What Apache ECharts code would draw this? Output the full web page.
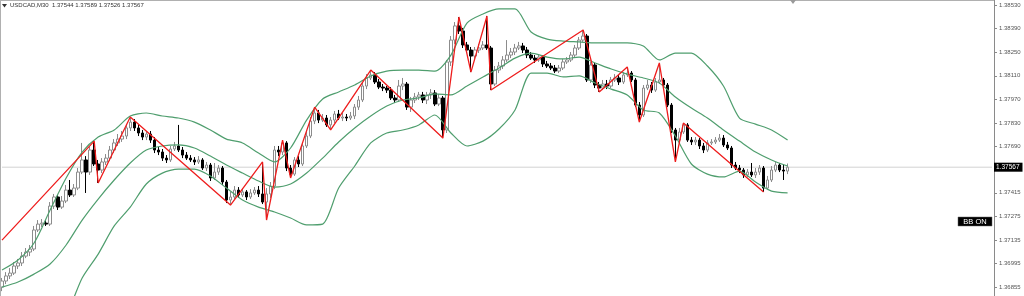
<!DOCTYPE html>
<html><head><meta charset="utf-8">
<script src="https://cdn.jsdelivr.net/npm/echarts@6/dist/echarts.min.js"></script>
<style>html,body{margin:0;padding:0;background:#fff}#c{width:1024px;height:296px}</style>
</head><body><div id="c"></div>
<script>
const slotCount = 248;
const categories = Array.from({length: slotCount}, (_, i) => String(i));

const opens = [
1.36855,1.36891,1.36921,1.36938,1.36980,1.36998,1.37039,1.37063,1.37081,1.37194,
1.37229,1.37235,1.37229,1.37336,1.37390,1.37330,1.37366,1.37431,1.37402,1.37443,
1.37538,1.37610,1.37538,1.37669,1.37586,1.37550,1.37598,1.37621,1.37669,1.37711,
1.37734,1.37752,1.37800,1.37835,1.37800,1.37770,1.37746,1.37764,1.37728,1.37669,
1.37657,1.37621,1.37610,1.37675,1.37693,1.37669,1.37639,1.37621,1.37610,1.37598,
1.37610,1.37562,1.37580,1.37503,1.37538,1.37562,1.37479,1.37372,1.37390,1.37431,
1.37402,1.37420,1.37390,1.37414,1.37431,1.37408,1.37360,1.37408,1.37455,1.37669,
1.37657,1.37711,1.37562,1.37526,1.37610,1.37586,1.37693,1.37752,1.37841,1.37889,
1.37847,1.37859,1.37818,1.37847,1.37883,1.37859,1.37865,1.37859,1.37871,1.37924,
1.37966,1.38049,1.38097,1.38115,1.38073,1.38043,1.38037,1.38025,1.37978,1.37966,
1.38049,1.38061,1.37924,1.37966,1.37984,1.37996,1.37966,1.37996,1.38008,1.37942,
1.37978,1.37788,1.38192,1.38322,1.38406,1.38376,1.38293,1.38263,1.38227,1.38263,
1.38275,1.38293,1.38275,1.38061,1.38144,1.38168,1.38204,1.38233,1.38251,1.38275,
1.38287,1.38263,1.38233,1.38215,1.38204,1.38221,1.38180,1.38168,1.38156,1.38138,
1.38156,1.38192,1.38204,1.38233,1.38275,1.38322,1.38346,1.38085,1.38174,1.38055,
1.38037,1.38061,1.38049,1.38085,1.38097,1.38073,1.38115,1.38126,1.38085,1.37936,
1.37877,1.38037,1.38055,1.38025,1.38073,1.38085,1.38055,1.37936,1.37788,1.37728,
1.37776,1.37818,1.37728,1.37717,1.37728,1.37693,1.37669,1.37711,1.37717,1.37728,
1.37740,1.37699,1.37681,1.37580,1.37562,1.37550,1.37521,1.37538,1.37521,1.37538,
1.37562,1.37443,1.37491,1.37550,1.37580,1.37550,1.37544];

const closes = [
1.36891,1.36921,1.36938,1.36980,1.36998,1.37039,1.37063,1.37081,1.37194,1.37229,
1.37235,1.37229,1.37336,1.37390,1.37330,1.37366,1.37431,1.37402,1.37443,1.37538,
1.37610,1.37538,1.37669,1.37586,1.37550,1.37598,1.37621,1.37669,1.37711,1.37734,
1.37752,1.37800,1.37835,1.37800,1.37770,1.37746,1.37764,1.37728,1.37669,1.37657,
1.37621,1.37610,1.37675,1.37693,1.37669,1.37639,1.37621,1.37610,1.37598,1.37610,
1.37562,1.37580,1.37503,1.37538,1.37562,1.37479,1.37372,1.37390,1.37431,1.37402,
1.37420,1.37390,1.37414,1.37431,1.37408,1.37360,1.37408,1.37455,1.37669,1.37657,
1.37711,1.37562,1.37526,1.37610,1.37586,1.37693,1.37752,1.37841,1.37889,1.37847,
1.37859,1.37818,1.37847,1.37883,1.37859,1.37865,1.37859,1.37871,1.37924,1.37966,
1.38049,1.38097,1.38115,1.38073,1.38043,1.38037,1.38025,1.37978,1.37966,1.38049,
1.38061,1.37924,1.37966,1.37984,1.37996,1.37966,1.37996,1.38008,1.37942,1.37978,
1.37788,1.38192,1.38322,1.38406,1.38376,1.38293,1.38263,1.38227,1.38263,1.38275,
1.38293,1.38275,1.38061,1.38144,1.38168,1.38204,1.38233,1.38251,1.38275,1.38287,
1.38263,1.38233,1.38215,1.38204,1.38221,1.38180,1.38168,1.38156,1.38138,1.38156,
1.38192,1.38204,1.38233,1.38275,1.38322,1.38346,1.38085,1.38174,1.38055,1.38037,
1.38061,1.38049,1.38085,1.38097,1.38073,1.38115,1.38126,1.38085,1.37936,1.37877,
1.38037,1.38055,1.38025,1.38073,1.38085,1.38055,1.37936,1.37788,1.37728,1.37776,
1.37818,1.37728,1.37717,1.37728,1.37693,1.37669,1.37711,1.37717,1.37728,1.37740,
1.37699,1.37681,1.37580,1.37562,1.37550,1.37521,1.37538,1.37521,1.37538,1.37562,
1.37443,1.37491,1.37550,1.37580,1.37550,1.37544,1.37567];

const highs = [
1.36909,1.36944,1.36968,1.37004,1.37022,1.37063,1.37087,1.37105,1.37218,1.37253,
1.37259,1.37253,1.37360,1.37408,1.37402,1.37396,1.37461,1.37491,1.37467,1.37562,
1.37711,1.37633,1.37687,1.37722,1.37610,1.37621,1.37645,1.37693,1.37734,1.37764,
1.37782,1.37823,1.37865,1.37853,1.37818,1.37788,1.37782,1.37782,1.37746,1.37687,
1.37675,1.37639,1.37693,1.37717,1.37818,1.37687,1.37657,1.37639,1.37627,1.37633,
1.37621,1.37598,1.37592,1.37592,1.37580,1.37574,1.37491,1.37420,1.37455,1.37449,
1.37443,1.37431,1.37437,1.37449,1.37455,1.37598,1.37443,1.37479,1.37693,1.37693,
1.37728,1.37722,1.37580,1.37627,1.37633,1.37711,1.37776,1.37865,1.37924,1.37907,
1.37883,1.37877,1.37865,1.37901,1.37907,1.37889,1.37883,1.37895,1.37942,1.37990,
1.38067,1.38120,1.38144,1.38132,1.38091,1.38061,1.38049,1.38043,1.37996,1.38085,
1.38097,1.38073,1.37984,1.38008,1.38014,1.38014,1.38014,1.38031,1.38025,1.38002,
1.37990,1.38204,1.38346,1.38429,1.38459,1.38394,1.38311,1.38281,1.38281,1.38299,
1.38316,1.38465,1.38287,1.38168,1.38192,1.38227,1.38322,1.38275,1.38299,1.38311,
1.38305,1.38281,1.38251,1.38233,1.38239,1.38233,1.38198,1.38186,1.38174,1.38174,
1.38210,1.38221,1.38251,1.38293,1.38340,1.38382,1.38358,1.38192,1.38186,1.38073,
1.38085,1.38085,1.38103,1.38120,1.38115,1.38132,1.38162,1.38138,1.38097,1.37954,
1.38055,1.38085,1.38073,1.38097,1.38186,1.38097,1.38067,1.37948,1.37800,1.37800,
1.37829,1.37829,1.37746,1.37746,1.37740,1.37711,1.37728,1.37734,1.37746,1.37764,
1.37758,1.37717,1.37693,1.37598,1.37580,1.37562,1.37556,1.37592,1.37562,1.37580,
1.37574,1.37515,1.37574,1.37598,1.37592,1.37586,1.37589];

const lows = [
1.36831,1.36873,1.36903,1.36927,1.36962,1.36980,1.37027,1.37039,1.37069,1.37182,
1.37212,1.37218,1.37218,1.37319,1.37313,1.37319,1.37354,1.37390,1.37390,1.37431,
1.37526,1.37414,1.37521,1.37574,1.37473,1.37532,1.37580,1.37604,1.37651,1.37693,
1.37717,1.37734,1.37782,1.37782,1.37752,1.37728,1.37728,1.37711,1.37651,1.37639,
1.37604,1.37592,1.37598,1.37663,1.37657,1.37621,1.37610,1.37598,1.37580,1.37586,
1.37550,1.37544,1.37485,1.37491,1.37521,1.37461,1.37354,1.37342,1.37378,1.37384,
1.37390,1.37372,1.37378,1.37402,1.37390,1.37348,1.37253,1.37384,1.37437,1.37633,
1.37639,1.37544,1.37503,1.37515,1.37568,1.37574,1.37681,1.37740,1.37823,1.37829,
1.37835,1.37806,1.37788,1.37829,1.37847,1.37841,1.37841,1.37847,1.37853,1.37907,
1.37954,1.38031,1.38085,1.38061,1.38031,1.38019,1.38008,1.37966,1.37948,1.37954,
1.38025,1.37907,1.37895,1.37948,1.37966,1.37948,1.37942,1.37972,1.37930,1.37930,
1.37740,1.37770,1.38168,1.38299,1.38358,1.38275,1.38245,1.38132,1.38210,1.38245,
1.38263,1.38263,1.38025,1.38049,1.38126,1.38150,1.38192,1.38215,1.38233,1.38263,
1.38245,1.38215,1.38204,1.38186,1.38192,1.38162,1.38156,1.38144,1.38126,1.38126,
1.38144,1.38180,1.38192,1.38221,1.38263,1.38311,1.38073,1.38067,1.38037,1.38014,
1.38025,1.38031,1.38037,1.38073,1.38055,1.38061,1.38103,1.38073,1.37924,1.37835,
1.37865,1.38025,1.38008,1.38014,1.38061,1.38037,1.37924,1.37770,1.37598,1.37711,
1.37764,1.37717,1.37699,1.37699,1.37675,1.37651,1.37657,1.37699,1.37705,1.37717,
1.37687,1.37669,1.37562,1.37550,1.37532,1.37503,1.37509,1.37509,1.37503,1.37521,
1.37420,1.37431,1.37479,1.37538,1.37538,1.37491,1.37526];

const bandIndex = [0,4,8,12,16,20,24,28,32,36,40,44,48,52,56,60,64,68,72,76,80,84,88,92,96,100,104,108,112,116,120,124,128,132,136,140,144,148,152,156,160,164,168,172,176,180,184,188,192,196];
const upperBand = [1.36956,1.37016,1.37117,1.37313,1.37503,1.37657,1.37746,1.37788,1.37871,1.37889,
1.37871,1.37859,1.37835,1.37788,1.37734,1.37711,1.37651,1.37598,1.37681,1.37847,
1.37972,1.38014,1.38055,1.38109,1.38138,1.38144,1.38144,1.38138,1.38233,1.38423,
1.38477,1.38507,1.38507,1.38370,1.38328,1.38316,1.38311,1.38305,1.38305,1.38305,
1.38287,1.38204,1.38245,1.38245,1.38168,1.38049,1.37859,1.37823,1.37788,1.37728];
const middleBand = [1.36855,1.36885,1.36932,1.36992,1.37105,1.37253,1.37378,1.37491,1.37592,1.37669,
1.37693,1.37699,1.37681,1.37633,1.37580,1.37532,1.37485,1.37449,1.37467,1.37532,
1.37621,1.37717,1.37800,1.37871,1.37930,1.37966,1.37978,1.38002,1.37996,1.38049,
1.38103,1.38156,1.38215,1.38245,1.38221,1.38210,1.38221,1.38186,1.38150,1.38120,
1.38097,1.38067,1.37984,1.37918,1.37859,1.37788,1.37722,1.37657,1.37610,1.37574];
const lowerBand = [1.36754,1.36754,1.36736,1.36683,1.36701,1.36909,1.37051,1.37218,1.37330,1.37467,
1.37532,1.37556,1.37556,1.37515,1.37443,1.37372,1.37330,1.37301,1.37265,1.37224,
1.37229,1.37443,1.37574,1.37711,1.37770,1.37788,1.37818,1.37877,1.37770,1.37693,
1.37722,1.37794,1.37907,1.38126,1.38126,1.38103,1.38109,1.38067,1.38031,1.37996,
1.37907,1.37889,1.37752,1.37586,1.37526,1.37509,1.37544,1.37479,1.37425,1.37414];

const zigzagIndex = [0,23,24,32,57,65,66,70,72,78,82,92,110,114,117,121,122,145,149,156,159,164,168,170,190];
const zigzagValue = [1.37134,1.37722,1.37473,1.37865,1.37342,1.37598,1.37253,1.37728,1.37503,1.37924,1.37788,1.38144,1.37740,1.38459,1.38132,1.38465,1.38025,1.38382,1.38014,1.38162,1.37835,1.38186,1.37598,1.37829,1.37420];

const tickLabels = [1.38530,1.38390,1.38250,1.38110,1.37970,1.37830,1.37690,1.37415,1.37275,1.37135,1.36995,1.36855];
const lastPrice = 1.37567;
const titleText = 'USDCAD,M30  1.37544 1.37589 1.37526 1.37567';
const badgeText = 'BB ON';

const chart = echarts.init(document.getElementById('c'), null, {renderer: 'canvas'});
const candleData = opens.map((o, i) => [o, closes[i], lows[i], highs[i]]);
const pair = (idx, vals) => idx.map((x, i) => [x, vals[i]]);
const FONT = 'Liberation Sans';
const bandStyle = {color: '#4f9e6e', width: 1.2};

chart.setOption({
  animation: false,
  grid: {left: 0, right: 30, top: 0, bottom: 0, containLabel: false},
  xAxis: {type: 'category', data: categories, boundaryGap: true, show: false},
  yAxis: {
    type: 'value', position: 'right', min: 1.36802, max: 1.38560,
    axisLine: {show: true, lineStyle: {color: '#8a8a8a', width: 1}},
    axisTick: {show: true, customValues: tickLabels, length: 3, lineStyle: {color: '#8a8a8a'}},
    axisLabel: {show: true, customValues: tickLabels, formatter: v => v.toFixed(5), fontSize: 6, color: '#555', margin: 5, fontFamily: FONT},
    splitLine: {show: false}
  },
  series: [
    {
      type: 'line', data: [[0, lastPrice], [slotCount - 1, lastPrice]], showSymbol: false, z: 1,
      lineStyle: {color: '#d2d2d2', width: 1},
      endLabel: {show: true, formatter: lastPrice.toFixed(5), backgroundColor: '#000', color: '#fff',
                 fontSize: 6.5, fontFamily: FONT, padding: [1, 3, 1, 2], distance: 2}
    },
    {
      type: 'candlestick', data: candleData, barWidth: 3, z: 2,
      itemStyle: {color: '#ffffff', color0: '#000000', borderColor: '#8c8c8c', borderColor0: '#000000', borderWidth: 1}
    },
    {type: 'line', data: pair(bandIndex, upperBand), showSymbol: false, smooth: 0.25, lineStyle: bandStyle, z: 3},
    {type: 'line', data: pair(bandIndex, middleBand), showSymbol: false, smooth: 0.25, lineStyle: bandStyle, z: 3},
    {type: 'line', data: pair(bandIndex, lowerBand), showSymbol: false, smooth: 0.25, lineStyle: bandStyle, z: 3},
    {type: 'line', data: pair(zigzagIndex, zigzagValue), showSymbol: false, lineStyle: {color: '#ee1c1c', width: 1.3}, z: 4}
  ],
  graphic: [
    {type: 'line', shape: {x1: 0, y1: 0.5, x2: 994, y2: 0.5}, style: {stroke: '#b0b0b0', lineWidth: 1}, z: 10},
    {type: 'line', shape: {x1: 0.5, y1: 0, x2: 0.5, y2: 296}, style: {stroke: '#b0b0b0', lineWidth: 1}, z: 10},
    {type: 'polygon', shape: {points: [[790, 0], [796, 0], [793, 4]]}, style: {fill: '#9a9a9a'}, z: 10},
    {type: 'polygon', shape: {points: [[2, 4], [7, 4], [4.5, 7.5]]}, style: {fill: '#333'}, z: 10},
    {type: 'text', x: 10, y: 2.5, style: {text: titleText, fontSize: 6, fill: '#333', fontFamily: FONT}, z: 10},
    {type: 'rect', shape: {x: 958, y: 217, width: 34, height: 9}, style: {fill: '#000', stroke: '#666', lineWidth: 0.5}, z: 10},
    {type: 'text', x: 975, y: 221.5, style: {text: badgeText, fontSize: 7.5, fill: '#fff', fontFamily: FONT, align: 'center', verticalAlign: 'middle'}, z: 11}
  ]
});
</script>
</body></html>
